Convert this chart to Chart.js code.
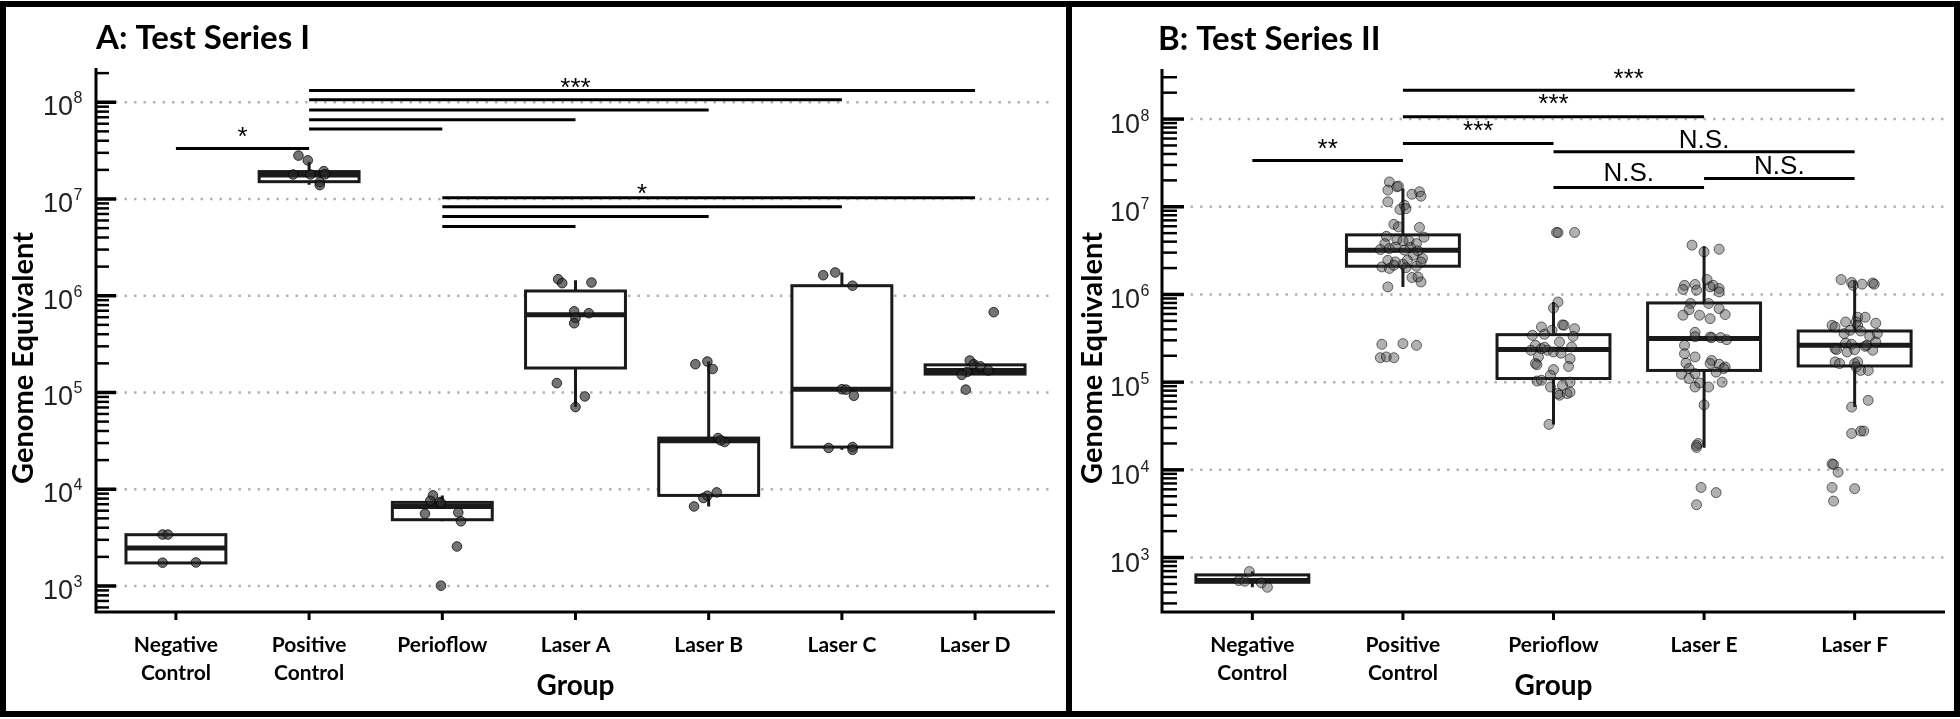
<!DOCTYPE html>
<html><head><meta charset="utf-8">
<script src="https://cdn.jsdelivr.net/npm/chart.js@4.4.1/dist/chart.umd.min.js"></script>
<style>
html,body{margin:0;padding:0;background:#fff;width:1960px;height:719px;overflow:hidden}
canvas{position:absolute;left:0;top:0}
.frame{position:absolute;left:0;top:1px;width:1960px;height:716px;box-sizing:border-box;border:6px solid #000;pointer-events:none}
.divider{position:absolute;left:1066px;top:1px;width:6px;height:716px;background:#000}
</style></head><body>
<canvas id="panelA" width="1960" height="719"></canvas>
<canvas id="panelB" width="1960" height="719"></canvas>
<div class="frame"></div><div class="divider"></div>
<script>
// ---------- Panel A: Test Series I ----------
const titleA = 'A: Test Series I';
const categoriesA = [['Negative','Control'],['Positive','Control'],['Perioflow'],['Laser A'],['Laser B'],['Laser C'],['Laser D']];
const q1A     = [1730, 1.51e7, 4840, 1.79e5, 8630, 2.73e4, 1.55e5];
const medianA = [2466, 1.77e7, 6640, 6.35e5, 3.17e4, 1.08e5, 1.69e5];
const q3A     = [3388, 1.92e7, 7310, 1.12e6, 3.38e4, 1.27e6, 1.93e5];
const lowA    = [1730, 1.40e7, 4660, 7.06e4, 6640, 2.56e4, 1.52e5];
const highA   = [3388, 2.43e7, 8630, 1.45e6, 2.09e5, 1.74e6, 2.14e5];
const pointsA = [
  [3400, 3400, 1740, 1750],
  [2.81e7, 2.51e7, 1.79e7, 1.79e7, 1.94e7, 1.80e7, 1.49e7, 1.39e7],
  [8630, 7600, 7380, 7200, 5580, 5750, 4660, 2560, 1007],
  [1.48e6, 1.35e6, 1.37e6, 6.9e5, 6.6e5, 5.9e5, 5.2e5, 1.25e5, 9.1e4, 7.06e4],
  [1.96e5, 2.09e5, 1.75e5, 3.38e4, 3.08e4, 3.2e4, 9270, 8570, 8110, 6640],
  [1.63e6, 1.74e6, 1.27e6, 1.08e5, 1.07e5, 9.25e4, 2.67e4, 2.73e4, 2.56e4],
  [2.14e5, 1.96e5, 1.86e5, 1.69e5, 1.63e5, 1.52e5, 1.07e5, 6.76e5]
];
const jitterA = [
  [-0.10, -0.06, -0.10, 0.15],
  [-0.08, -0.01, -0.12, 0.01, 0.11, 0.12, 0.08, 0.08],
  [-0.07, -0.09, -0.02, -0.01, -0.13, 0.12, 0.14, 0.11, -0.01],
  [-0.13, -0.10, 0.12, -0.01, 0.10, 0.00, -0.01, -0.14, 0.07, 0.00],
  [-0.10, -0.01, 0.03, 0.07, 0.12, 0.09, 0.06, -0.01, -0.04, -0.11],
  [-0.14, -0.05, 0.08, 0.00, 0.03, 0.09, -0.10, 0.08, 0.08],
  [-0.04, -0.01, 0.04, 0.10, -0.06, -0.10, -0.07, 0.14]
];
const yTickExpA = [3, 4, 5, 6, 7, 8];
// [from category, to category, height]
const sigBarsA = [[1,6,1.32e8],[1,5,1.06e8],[1,4,8.3e7],[1,3,6.6e7],[1,2,5.3e7],[0,1,3.32e7],
                  [2,6,1.03e7],[2,5,8.3e6],[2,4,6.6e6],[2,3,5.2e6]];
// [text, category position, height of text centre]
const sigLabelsA = [['***',3.0,1.67e8],['*',0.5,5.16e7],['*',3.5,1.33e7]];

// ---------- Panel B: Test Series II ----------
const titleB = 'B: Test Series II';
const categoriesB = [['Negative','Control'],['Positive','Control'],['Perioflow'],['Laser E'],['Laser F']];
const q1B     = [522, 2.10e6, 1.10e5, 1.36e5, 1.53e5];
const medianB = [546, 3.20e6, 2.35e5, 3.14e5, 2.63e5];
const q3B     = [634, 4.78e6, 3.48e5, 8.00e5, 3.83e5];
const lowB    = [458, 1.22e6, 3.30e4, 1.79e4, 5.20e4];
const highB   = [692, 1.62e7, 8.20e5, 3.55e6, 1.43e6];
const pointsB = [
  [692, 546, 537, 514, 458],
  [1.92e7,1.55e7,1.69e7,1.72e7,1.39e7,1.48e7,1.32e7,1.14e7,1.04e7,9.3e6,9.5e6,6.3e6,5.9e6,5.8e6,4.5e6,4.6e6,4.2e6,4.1e6,4.1e6,3.8e6,
   3.8e6,3.25e6,3.34e6,3.48e6,3.43e6,3.14e6,3.2e6,2.8e6,2.45e6,2.35e6,2.21e6,2.45e6,2.57e6,2.06e6,1.98e6,2.15e6,2.02e6,2.1e6,2.35e6,1.56e6,
   1.58e6,1.39e6,1.22e6,2.7e5,2.75e5,2.63e5,1.9e5,1.94e5,1.9e5],
  [5.1e6,5.07e6,5.1e6,8.2e5,7.0e5,4.5e5,4.45e5,4.26e5,3.9e5,4.07e5,3.33e5,3.42e5,3.52e5,2.87e5,2.63e5,2.52e5,2.31e5,2.41e5,2.31e5,2.21e5,
   1.94e5,1.85e5,1.63e5,1.51e5,1.39e5,1.2e5,1.03e5,1.05e5,1.0e5,8.8e4,9.2e4,7.4e4,7.1e4,7.4e4,7.7e4,3.3e4,2.5e5,2.14e5,1.58e5],
  [3.65e6,3.06e6,3.28e6,1.48e6,1.27e6,1.14e6,1.3e6,1.12e6,1.22e6,1.27e6,1.17e6,1.07e6,7.9e5,7.9e5,6.7e5,6.9e5,5.8e5,5.8e5,5.3e5,5.9e5,
   3.7e5,3.3e5,3.27e5,3.22e5,3.22e5,3.05e5,2.63e5,2.11e5,1.94e5,1.65e5,1.77e5,1.63e5,1.6e5,1.49e5,1.43e5,1.43e5,1.23e5,1.1e5,1.25e5,1.3e5,
   9.8e4,8.8e4,8.8e4,1.0e5,5.5e4,2.0e4,1.8e4,1.9e4,6300,5500,4000],
  [1.48e6,1.37e6,1.27e6,1.31e6,1.35e6,1.31e6,5.5e5,5.5e5,4.7e5,4.85e5,4.45e5,4.26e5,4.85e5,4.45e5,3.9e5,3.83e5,3.58e5,3.58e5,3.33e5,2.79e5,
   2.7e5,2.56e5,2.63e5,2.87e5,2.41e5,2.35e5,2.21e5,2.35e5,2.31e5,1.7e5,1.63e5,1.63e5,1.7e5,1.49e5,1.36e5,1.36e5,5.2e4,6.2e4,2.6e4,2.77e4,
   2.77e4,1.17e4,1.15e4,9400,6300,6100,4400]
];
const jitterB = [
  [-0.02, -0.09, -0.05, 0.06, 0.10],
  [-0.09,-0.10,-0.04,-0.03,0.06,0.11,0.12,-0.10,0.01,-0.02,0.02,-0.06,-0.03,0.11,0.14,-0.11,-0.04,0.00,0.04,-0.12,
   0.09,-0.15,-0.09,-0.05,0.05,0.10,0.01,0.07,-0.10,-0.05,0.00,0.03,0.13,-0.14,-0.09,-0.06,0.02,0.09,0.12,0.06,
   0.10,0.12,-0.10,-0.14,0.00,0.09,-0.15,-0.11,-0.06],
  [0.02,0.03,0.14,0.03,0.00,0.06,0.07,-0.08,-0.01,0.14,0.13,-0.14,-0.06,0.04,-0.12,0.12,-0.15,-0.08,-0.04,0.00,
   -0.10,0.11,-0.12,0.10,0.00,-0.02,-0.11,-0.08,0.11,-0.02,0.06,0.03,0.04,0.09,0.11,-0.03,-0.06,0.05,-0.11],
  [-0.08,0.00,0.10,0.02,-0.13,-0.14,-0.06,-0.05,0.04,0.06,0.10,0.10,0.03,-0.09,-0.10,0.10,-0.14,-0.03,0.04,0.14,
   -0.06,-0.06,0.04,0.05,0.11,0.15,-0.13,-0.13,-0.06,-0.12,0.05,0.04,0.10,0.14,0.13,-0.10,-0.15,-0.10,-0.06,0.08,
   -0.03,0.03,-0.06,0.12,0.00,-0.04,-0.05,-0.05,-0.02,0.08,-0.05],
  [-0.09,-0.02,-0.01,0.05,0.12,0.13,0.02,0.07,0.14,-0.06,-0.15,-0.13,0.01,0.02,-0.03,0.04,0.15,-0.07,0.10,-0.06,
   -0.02,0.07,0.08,0.14,-0.13,-0.12,-0.05,0.00,0.12,-0.13,-0.10,0.00,0.02,0.01,0.04,0.09,-0.02,0.09,-0.02,0.04,
   0.06,-0.15,-0.14,-0.11,-0.15,0.00,-0.14]
];
const yTickExpB = [3, 4, 5, 6, 7, 8];
const sigBarsB = [[1,4,2.13e8],[1,3,1.06e8],[1,2,5.28e7],[0,1,3.38e7],[2,4,4.24e7],[3,4,2.1e7],[2,3,1.66e7]];
const sigLabelsB = [['***',2.5,3.47e8],['***',2.0,1.77e8],['***',1.5,8.77e7],['**',0.5,5.5e7],
                    ['N.S.',3.0,6.03e7],['N.S.',3.5,3.06e7],['N.S.',2.5,2.5e7]];

const axisTitleX = 'Group';
const axisTitleY = 'Genome Equivalent';

// ---------- drawing ----------
const INK = '#1a1a1a';
const TICKFONT = '"Liberation Sans Narrow", "Liberation Sans", sans-serif';
function panelPlugin(p){
  return {
    id: 'panel' + p.key,
    beforeDatasetsDraw(chart){
      const {ctx, chartArea: ca, scales: {x, y}} = chart;
      ctx.save();
      ctx.setLineDash([2.5, 7]);
      ctx.strokeStyle = '#b3b3b3';
      ctx.lineWidth = 2.5;
      p.ticks.forEach(e => {
        const py = y.getPixelForValue(Math.pow(10, e));
        ctx.beginPath(); ctx.moveTo(ca.left, py); ctx.lineTo(ca.right, py); ctx.stroke();
      });
      ctx.setLineDash([]);
      const hw = 0.375;
      p.q1.forEach((q1, i) => {
        const xl = x.getPixelForValue(i - hw), xr = x.getPixelForValue(i + hw), xc = x.getPixelForValue(i);
        const y1 = y.getPixelForValue(q1), y3 = y.getPixelForValue(p.q3[i]);
        const ym = y.getPixelForValue(p.med[i]);
        const ylo = y.getPixelForValue(p.lo[i]), yhi = y.getPixelForValue(p.hi[i]);
        ctx.strokeStyle = INK; ctx.lineWidth = 3; ctx.lineCap = 'butt';
        ctx.beginPath(); ctx.moveTo(xc, yhi); ctx.lineTo(xc, y3); ctx.moveTo(xc, y1); ctx.lineTo(xc, ylo); ctx.stroke();
        ctx.fillStyle = '#fff';
        ctx.fillRect(xl, y3, xr - xl, y1 - y3);
        ctx.strokeRect(xl, y3, xr - xl, y1 - y3);
        ctx.lineWidth = 5;
        ctx.beginPath(); ctx.moveTo(xl, ym); ctx.lineTo(xr, ym); ctx.stroke();
      });
      ctx.restore();
    },
    afterDatasetsDraw(chart){
      const {ctx, chartArea: ca, scales: {x, y}} = chart;
      ctx.save();
      ctx.strokeStyle = '#000';
      ctx.fillStyle = '#000';
      ctx.lineWidth = 3;
      ctx.beginPath();
      ctx.moveTo(ca.left, ca.top); ctx.lineTo(ca.left, ca.bottom); ctx.lineTo(ca.right, ca.bottom);
      ctx.stroke();
      const lo = Math.floor(Math.log10(y.min)), hi = Math.ceil(Math.log10(y.max));
      for (let e = lo; e <= hi; e++) {
        for (let m = 1; m <= 9; m++) {
          const v = m * Math.pow(10, e);
          if (v < y.min || v > y.max) continue;
          const py = y.getPixelForValue(v);
          ctx.lineWidth = m === 1 ? 3.5 : 2.5;
          const len = m === 1 ? p.majorLen : p.minorLen;
          ctx.beginPath(); ctx.moveTo(ca.left, py); ctx.lineTo(ca.left + len, py); ctx.stroke();
        }
      }
      ctx.fillStyle = '#222';
      ctx.textBaseline = 'alphabetic';
      ctx.textAlign = 'left';
      p.ticks.forEach(e => {
        const py = y.getPixelForValue(Math.pow(10, e));
        ctx.font = '27px ' + TICKFONT;
        const w1 = ctx.measureText('10').width;
        ctx.font = '16px ' + TICKFONT;
        const w2 = ctx.measureText(String(e)).width;
        const x0 = ca.left - p.labelGap - w1 - w2;
        ctx.font = '27px ' + TICKFONT;
        ctx.fillText('10', x0, py + p.labelDrop);
        ctx.font = '16px ' + TICKFONT;
        ctx.fillText(String(e), x0 + w1 + 0.5, py + p.labelDrop - 12);
      });
      ctx.fillStyle = '#000';
      ctx.strokeStyle = '#000';
      ctx.lineWidth = 3;
      ctx.textAlign = 'center';
      p.cats.forEach((lines, i) => {
        const px = x.getPixelForValue(i);
        ctx.beginPath(); ctx.moveTo(px, ca.bottom); ctx.lineTo(px, ca.bottom + 8); ctx.stroke();
        ctx.font = 'bold 21px Lato, "Open Sans", sans-serif';
        lines.forEach((t, j) => ctx.fillText(t, px, 652 + 28 * j));
      });
      ctx.font = 'bold 28px Lato, "Open Sans", sans-serif';
      ctx.fillText(axisTitleX, x.getPixelForValue((p.cats.length - 1) / 2), 695);
      ctx.save();
      ctx.translate(p.yTitleX, 358);
      ctx.rotate(-Math.PI / 2);
      ctx.font = 'bold 29px Lato, "Open Sans", sans-serif';
      ctx.fillText(axisTitleY, 0, 0);
      ctx.restore();
      ctx.textAlign = 'left';
      ctx.font = 'bold 33px Lato, "Open Sans", sans-serif';
      ctx.fillText(p.title, p.titleX, p.titleY);
      ctx.lineWidth = 3;
      ctx.strokeStyle = '#000';
      p.sigBars.forEach(([a, b, v]) => {
        const py = y.getPixelForValue(v);
        ctx.beginPath(); ctx.moveTo(x.getPixelForValue(a), py); ctx.lineTo(x.getPixelForValue(b), py); ctx.stroke();
      });
      ctx.textAlign = 'center';
      ctx.font = '26px "Liberation Sans", Arial, sans-serif';
      p.sigLabels.forEach(([t, c, v]) => {
        const py = y.getPixelForValue(v);
        const off = t.startsWith('*') ? 0.57 * 26 : 0.36 * 26;
        ctx.fillText(t, x.getPixelForValue(c), py + off);
      });
      ctx.restore();
    }
  };
}

function makePanel(id, p){
  const pts = [];
  p.points.forEach((vals, i) => vals.forEach((v, j) => pts.push({x: i + p.jitter[i][j], y: v})));
  return new Chart(document.getElementById(id), {
    type: 'scatter',
    data: { datasets: [{ data: pts, pointRadius: p.radius, pointHoverRadius: p.radius, pointBorderWidth: 1,
      backgroundColor: p.pointFill, borderColor: p.pointEdge }] },
    options: {
      responsive: false, animation: false, devicePixelRatio: 1,
      layout: { padding: p.pad },
      plugins: { legend: { display: false }, tooltip: { enabled: false } },
      scales: {
        x: { type: 'linear', display: false, min: -0.6, max: p.cats.length - 0.4 },
        y: { type: 'logarithmic', display: false, min: p.yMin, max: p.yMax }
      }
    },
    plugins: [panelPlugin(p)]
  });
}

makePanel('panelA', {
  key: 'A', title: titleA, titleX: 96, titleY: 49, cats: categoriesA,
  q1: q1A, med: medianA, q3: q3A, lo: lowA, hi: highA, points: pointsA, jitter: jitterA,
  ticks: yTickExpA, sigBars: sigBarsA, sigLabels: sigLabelsA,
  yMin: Math.pow(10, 2.731), yMax: Math.pow(10, 8.354),
  pad: { left: 96, right: 905, top: 68, bottom: 107 },
  majorLen: 20, minorLen: 13, labelGap: 14, labelDrop: 13, yTitleX: 33, radius: 4.8,
  pointFill: 'rgba(40,40,40,0.65)', pointEdge: 'rgba(0,0,0,0.75)'
});
makePanel('panelB', {
  key: 'B', title: titleB, titleX: 1158, titleY: 50, cats: categoriesB,
  q1: q1B, med: medianB, q3: q3B, lo: lowB, hi: highB, points: pointsB, jitter: jitterB,
  ticks: yTickExpB, sigBars: sigBarsB, sigLabels: sigLabelsB,
  yMin: Math.pow(10, 2.379), yMax: Math.pow(10, 8.571),
  pad: { left: 1162, right: 15, top: 69, bottom: 107 },
  majorLen: 22, minorLen: 15, labelGap: 13, labelDrop: 14, yTitleX: 1102, radius: 5,
  pointFill: 'rgba(60,60,60,0.4)', pointEdge: 'rgba(0,0,0,0.55)'
});
</script>
</body></html>
